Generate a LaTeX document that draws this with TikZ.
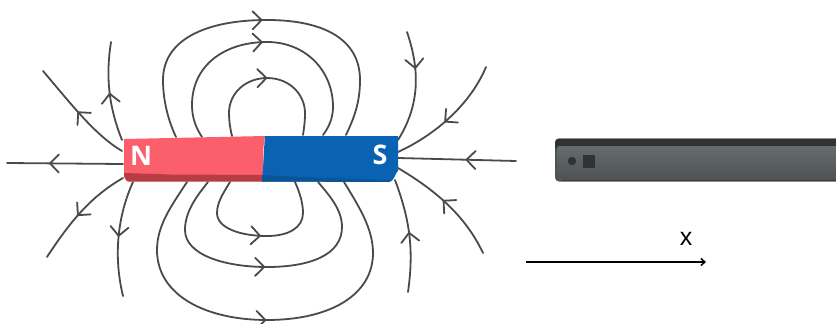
\documentclass[tikz,border=0pt]{standalone}
\usepackage{fontspec}
\setmainfont{Liberation Sans}
\newfontfamily\polefont{Open Sans}
\usetikzlibrary{arrows.meta,decorations.markings}
\definecolor{fieldc}{HTML}{4A4A4A}
\definecolor{redm}{HTML}{FB5F6B}
\definecolor{redd}{HTML}{B83C46}
\definecolor{bluem}{HTML}{0A63B2}
\definecolor{blued}{HTML}{0A5596}
\definecolor{bartop}{HTML}{2F3334}
\definecolor{barbot}{HTML}{3A3D3E}
\definecolor{barhi}{HTML}{666C6E}
\definecolor{barlo}{HTML}{4E5254}
\tikzset{
  fieldline/.style={draw=fieldc,line width=1.8pt,line cap=round},
  midbarb/.style={postaction={decorate,decoration={markings,mark=at position #1 with {\draw[fieldc,line width=1.8pt,line cap=round,line join=round] (-9pt,9pt) -- (0pt,0pt) -- (-9pt,-9pt);}}}},
  pole/.style={text=white,font=\polefont\bfseries\fontsize{27}{27}\selectfont,inner sep=0pt},
  axislabel/.style={text=black,font=\fontsize{25}{25}\selectfont,inner sep=0pt}
}
\begin{document}
\begin{tikzpicture}[x=1pt,y=-1pt]
\useasboundingbox (0,0) rectangle (836,324);
% field lines, upper arcs
\draw[fieldline,midbarb=.5] (176,137) .. controls (168,120) and (163,100) .. (163,80) .. controls (163,40) and (205,20) .. (267,20) .. controls (325,20) and (360,40) .. (360,80) .. controls (360,103) and (354,118) .. (346,135);
\draw[fieldline,midbarb=.5] (202,137) .. controls (196,128) and (192,118) .. (192,105) .. controls (192,65) and (225,42) .. (267,42) .. controls (305,42) and (333,70) .. (333,107) .. controls (333,118) and (329,127) .. (323,135);
\draw[fieldline,midbarb=.5] (232,136) .. controls (230,128) and (229,120) .. (229,113) .. controls (229,92) and (247,78) .. (267,78) .. controls (290,78) and (305,95) .. (305,113) .. controls (305,122) and (304,128) .. (303,135);
% lower arcs
\draw[fieldline,midbarb=.5] (230,182) .. controls (224,192) and (217,202) .. (217,213) .. controls (217,228) and (240,236) .. (267,236) .. controls (288,236) and (303,228) .. (303,213) .. controls (303,202) and (299,191) .. (295,182);
\draw[fieldline,midbarb=.5] (208,182) .. controls (196,197) and (185,212) .. (185,230) .. controls (185,255) and (225,267) .. (267,267) .. controls (310,267) and (342,255) .. (342,227) .. controls (342,210) and (330,196) .. (318,182);
\draw[fieldline,midbarb=.5] (187,182) .. controls (172,205) and (157,225) .. (157,250) .. controls (157,295) and (205,320) .. (267,320) .. controls (330,320) and (373,295) .. (373,253) .. controls (373,228) and (358,205) .. (344,182);
% left radial
\draw[fieldline,midbarb=.63] (123,164) -- (7,163);
\draw[fieldline,midbarb=.52] (122,151) .. controls (95,135) and (72,105) .. (43,71);
\draw[fieldline,midbarb=.48] (122,140) .. controls (110,110) and (105,80) .. (111,42);
\draw[fieldline,midbarb=.53] (123,178) .. controls (90,197) and (70,222) .. (47,257);
\draw[fieldline,midbarb=.48] (133,182) .. controls (118,215) and (113,255) .. (123,296);
% right radial
\draw[fieldline,midbarb=.42] (516,161) -- (398,158);
\draw[fieldline,midbarb=.55] (486,67) .. controls (470,105) and (435,135) .. (398,152);
\draw[fieldline,midbarb=.33] (407,32) .. controls (420,70) and (420,105) .. (398,140);
\draw[fieldline,midbarb=.54] (483,253) .. controls (465,215) and (435,190) .. (398,168);
\draw[fieldline,midbarb=.52] (408,292) .. controls (414,250) and (410,220) .. (395,180);
% magnet
\fill[redm] (124,139) -- (265,136) to[out=260,in=95] (265,181) -- (128,181) to[out=180,in=90] (124,177) -- cycle;
\fill[redd] (124,173) -- (170,174.5) -- (263,175) -- (262,181.5) -- (128,181.5) to[out=180,in=90] (124,177) -- cycle;
\fill[bluem] (265,136) -- (398,136) -- (398,172) to[out=90,in=0] (389,182) -- (262,181.5) -- (262.5,175) to[out=85,in=265] (265,136) -- cycle;
\fill[blued] (262,181.5) -- (262.5,175) -- (300,177) -- (390,180) -- (389,182) -- cycle;
% pole letters
\node[pole] (north) at (141,156) {N};
\node[pole] (south) at (380,155) {S};
% metal bar
\fill[barlo,rounded corners=4pt] (555,138.5) rectangle (845,181.5);
\fill[bartop,rounded corners=4pt] (555,138.5) rectangle (845,150);
\shade[top color=barhi,bottom color=barlo,rounded corners=2.5pt] (557,146) rectangle (845,179.5);
\fill[barbot] (562,179.5) rectangle (836,181);
\fill[bartop] (572,161) circle (4.2);
\fill[bartop] (583,155) rectangle (595,167.5);
% axis
\coordinate (xstart) at (526,262);
\coordinate (xend) at (706,262);
\draw[black,line width=1.5pt,-{Straight Barb[length=4pt,width=7pt]}] (xstart) -- (xend);
\node[axislabel] (xlabel) at (686,239) {x};
\end{tikzpicture}
\end{document}
